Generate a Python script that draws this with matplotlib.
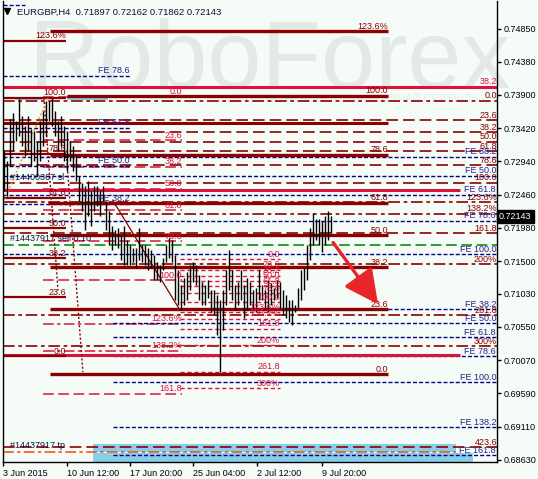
import matplotlib
matplotlib.use('Agg')
import matplotlib.pyplot as plt
from matplotlib.patches import Rectangle
from matplotlib.transforms import blended_transform_factory

plt.rcParams['font.family'] = ['Liberation Sans', 'DejaVu Sans']

# EURGBP H4 bars (high / low)
highs = [0.73094, 0.7295, 0.73555, 0.73641, 0.73526, 0.73843, 0.73598, 0.73454, 0.73598, 0.73411,
         0.73382, 0.73238, 0.73526, 0.7367, 0.73814, 0.73814, 0.73857, 0.7367, 0.73526, 0.73598,
         0.73454, 0.73382, 0.73238, 0.73166, 0.73022, 0.72734, 0.72633, 0.7259, 0.72662, 0.72518,
         0.7259, 0.7259, 0.72518, 0.7259, 0.72374, 0.7223, 0.72014, 0.71942, 0.71971, 0.7187,
         0.72014, 0.71798, 0.71726, 0.71683, 0.71683, 0.71971, 0.71726, 0.71726, 0.71683, 0.71654,
         0.71582, 0.71481, 0.71438, 0.71539, 0.71726, 0.71827, 0.71798, 0.71582, 0.71366, 0.7115,
         0.71251, 0.71337, 0.71438, 0.71481, 0.71438, 0.71294, 0.71193, 0.7115, 0.71222, 0.71078,
         0.71078, 0.71006, 0.70934, 0.71078, 0.71366, 0.71654, 0.71366, 0.7115, 0.71193, 0.71366,
         0.7115, 0.71251, 0.71193, 0.71078, 0.71107, 0.71366, 0.7115, 0.71078, 0.71222, 0.71179,
         0.71107, 0.71222, 0.71193, 0.71078, 0.71006, 0.70934, 0.70934, 0.70862, 0.71107, 0.71366,
         0.71395, 0.71726, 0.71971, 0.72201, 0.72115, 0.72115, 0.72086, 0.72158, 0.7223, 0.72158]
lows = [0.72518, 0.72446, 0.72878, 0.73094, 0.73238, 0.7331, 0.73166, 0.73022, 0.73094, 0.72878,
        0.7295, 0.72734, 0.7295, 0.73166, 0.7331, 0.73526, 0.73454, 0.7331, 0.73094, 0.73166,
        0.7295, 0.72806, 0.7295, 0.72806, 0.72662, 0.72374, 0.7223, 0.71942, 0.72158, 0.72014,
        0.7223, 0.72302, 0.72158, 0.72374, 0.71942, 0.71726, 0.71654, 0.71726, 0.71683, 0.7151,
        0.71438, 0.71438, 0.71438, 0.71481, 0.71395, 0.7151, 0.71481, 0.71438, 0.71366, 0.71395,
        0.71222, 0.71222, 0.71193, 0.71366, 0.71481, 0.71539, 0.71481, 0.70934, 0.70862, 0.7079,
        0.70862, 0.70934, 0.71078, 0.71193, 0.7115, 0.70934, 0.70862, 0.70862, 0.70963, 0.70761,
        0.70718, 0.7043, 0.69897, 0.70502, 0.70862, 0.71078, 0.70934, 0.7079, 0.70862, 0.70934,
        0.70675, 0.7079, 0.70862, 0.7079, 0.70761, 0.70934, 0.70934, 0.70819, 0.70761, 0.70862,
        0.70934, 0.70963, 0.70819, 0.70718, 0.70675, 0.70617, 0.70574, 0.70761, 0.70819, 0.70934,
        0.71078, 0.71222, 0.7151, 0.71726, 0.71798, 0.71726, 0.71625, 0.71726, 0.71798, 0.71913]

time_ticks = [-0.33, 21, 42, 63, 84.3, 106]
time_labels = ['3 Jun 2015', '10 Jun 12:00', '17 Jun 20:00', '25 Jun 04:00', '2 Jul 12:00', '9 Jul 20:00']
price_ticks = [0.74850, 0.74380, 0.73900, 0.73420, 0.72940, 0.72460, 0.71980,
               0.71500, 0.71030, 0.70550, 0.70070, 0.69590, 0.69110, 0.68630]
last_price = 0.72143
title = 'EURGBP,H4  0.71897 0.72162 0.71862 0.72143'

# main retracement (thick, labels at right end)
fibA_prices = [0.74822, 0.73886, 0.73036, 0.72345, 0.71870, 0.71409, 0.70804, 0.69868]
fibA_labels = ['123.6%', '100.0', '78.6', '61.8', '50.0', '38.2', '23.6', '0.0']
# short retracement on the left
fibB_prices = [0.74678, 0.73857, 0.73051, 0.72417, 0.71971, 0.71539, 0.70977, 0.70128]
fibB_labels = ['123.6%', '100.0', '78.6', '61.8', '50.0', '38.2', '23.6', '0.0']
# crimson retracement in the middle
fibC_prices = [0.73872, 0.73247, 0.72860, 0.72547, 0.72234, 0.71789, 0.71222, 0.70597, 0.70210, 0.69584, 0.68572]
fibC_labels = ['0.0', '23.6', '38.2', '50.0', '61.8', '78.6', '100.0', '123.6%', '138.2%', '161.8', '200%']
# dashed expansion across the whole chart
fibD_prices = [0.73814, 0.73535, 0.73363, 0.73224, 0.73084, 0.72886, 0.72633, 0.72354, 0.72182,
               0.71903, 0.71452, 0.70722, 0.70271, 0.68811]
fibD_labels = ['0.0', '23.6', '38.2', '50.0', '61.8', '78.6', '100.0', '123.6%', '138.2%',
               '161.8', '200%', '261.8', '300%', '423.6']
# small crimson retracement near the lows
fibF_prices = [0.71524, 0.71378, 0.71288, 0.71215, 0.71141, 0.71037, 0.70905, 0.70759, 0.70669,
               0.70522, 0.70286, 0.69904, 0.69667]
fibF_labels = ['0.0', '23.6', '38.2', '50.0', '61.8', '78.6', '100.0', '123.6%', '138.2%',
               '161.8', '200%', '261.8', '300%']
# fibo expansions (FE)
fe1_prices = [0.75196, 0.74174, 0.73425, 0.72878, 0.72331]
fe1_labels = ['', 'FE 78.6', 'FE 61.8', 'FE 50.0', 'FE 38.2']
fe2_prices = [0.73008, 0.72734, 0.72460, 0.72086, 0.71596]
fe2_labels = ['FE 38.2', 'FE 50.0', 'FE 61.8', 'FE 78.6', 'FE 100.0']
fe3_prices = [0.70804, 0.70603, 0.70401, 0.70128, 0.69753, 0.69105, 0.68702]
fe3_labels = ['FE 38.2', 'FE 50.0', 'FE 61.8', 'FE 78.6', 'FE 100.0', 'FE 138.2', 'FE 161.8']

crimson_prices = [0.74016, 0.72532, 0.70142]
extra_line = 0.73497
sell_price = 0.71726
tp_price = 0.68745
orders = [('#14400367 sl', 0.72705), ('#14437917 sell 0.10', 0.71827), ('#14437917 tp', 0.68832)]

DR = '#8b0000'
CR = '#dc143c'
NV = '#000080'
NVT = '#2c1f8c'
BG = '#f5fcf8'

fig = plt.figure(figsize=(5.38, 4.79), dpi=100, facecolor=BG)
ax = fig.add_axes([3 / 538, 17 / 479, 494 / 538, 461 / 479], facecolor=BG)
X0, X1 = -0.33, 164.33
ax.set_xlim(X0, X1)
ax.set_ylim(0.68601, 0.75254)

# watermark, behind everything inside the chart
ax.text(0.54, 0.865, 'RoboForex', transform=ax.transAxes, fontsize=70, color='#e2e9e7',
        ha='center', va='center', zorder=0.1)
ax.text(0.71, 0.787, 'ИСПОЛЬЗУЙ РОБОТОВ – ПОЛУЧАЙ ПРИБЫЛЬ', transform=ax.transAxes, fontsize=8,
        color='#e6ecea', ha='center', va='center', zorder=0.1)

FS = 6.5


def level(p, x0, x1, color, lw, dashes=None, label='', lcolor=None, lx=None):
    ln, = ax.plot([x0, x1], [p, p], color=color, lw=lw, zorder=2, solid_capstyle='butt')
    if dashes:
        ln.set_dashes(dashes)
    if label:
        ax.annotate(label, xy=(x1 if lx is None else lx, p), xytext=(0, 0.3), textcoords='offset points',
                    ha='right', va='bottom', fontsize=FS, color=lcolor or color, zorder=4)


DASH = (7, 3)
DASHDOT = (7, 2.2, 2.2, 2.2)
DOTS = (2.9, 1.5)

for p, lab in zip(fibD_prices, fibD_labels):
    d = DASHDOT if (lab.endswith('%') or lab in ('0.0', '261.8')) else DASH
    level(p, X0, X1, DR, 1.2, d, lab, DR)

for p, lab in zip(fibC_prices, fibC_labels):
    d = DASHDOT if lab.endswith('%') else DASH
    level(p, 13, 59.3, CR, 1.1, d, lab, CR)

for p, lab in zip(fibF_prices, fibF_labels):
    level(p, 58.7, 92, CR, 1.0, (3, 2), lab, CR)

for p, lab in zip(fe1_prices, fe1_labels):
    level(p, X0, 42 if lab else 7, NV, 1.0, DOTS, lab, NVT)
for p, lab in zip(fe2_prices, fe2_labels):
    level(p, X0, X1, NV, 1.0, DOTS, lab, NVT, lx=X1 - 0.3)
for p, lab in zip(fe3_prices, fe3_labels):
    level(p, 36.3, X1, NV, 1.0, DOTS, lab, NVT, lx=X1 - 0.3)

level(sell_price, X0, X1, '#008000', 1.1, DASH)
level(tp_price, X0, 150.7, '#ff4500', 1.1, DASHDOT)

for i, p in enumerate(crimson_prices):
    level(p, X0, X1 if i == 0 else 152, CR, 2.2, None, '38.2' if i == 0 else '', CR)

level(extra_line, X0, 128, DR, 2.2)
for p, lab in zip(fibB_prices, fibB_labels):
    level(p, X0, 20.7, DR, 1.6, None, lab, DR)
for i, (p, lab) in enumerate(zip(fibA_prices, fibA_labels)):
    start = 21 if lab == '100.0' else (14.7 if lab == '61.8' else 15.3)
    level(p, start, 128, DR, 2.4, None, lab, DR)

# light blue boxes
for x0, x1, y0, y1 in [(3.7, 12.7, 0.73828, 0.73872), (21, 34.7, 0.73828, 0.73872),
                       (29.7, 150.7, 0.68745, 0.68860), (29.7, 156.3, 0.68601, 0.68731)]:
    ax.add_patch(Rectangle((x0, y0), x1 - x0, y1 - y0, facecolor='#87ceeb', edgecolor='none', zorder=1.5))

# trend lines
ax.plot([13.3, 18], [0.73857, 0.71078], color=DR, lw=1, ls=(0, (1.5, 1.5)), zorder=2)
ax.plot([20.7, 26.3], [0.73094, 0.69897], color=DR, lw=1, ls=(0, (1.5, 1.5)), zorder=2)
ax.plot([X0, 14.7], [0.72331, 0.73857], color='#daa520', lw=1, ls=(0, (1.5, 1.5)), zorder=2)
ax.plot([36.3, 58.7], [0.72374, 0.70790], color=DR, lw=0.9, zorder=2)

# bars
ax.vlines(range(len(highs)), lows, highs, color='black', lw=1.0, zorder=3)

for txt, p in orders:
    ax.text(2, p, txt, fontsize=FS, color='#14143c', va='center', ha='left', zorder=4)

ax.annotate('', xy=(124.7, 0.70876), xytext=(109.7, 0.71769),
            arrowprops=dict(arrowstyle='-|>,head_width=0.5,head_length=1.0', color='#e8262a',
                            lw=2.4, mutation_scale=21, shrinkA=0, shrinkB=0), zorder=5)

ax.text(0.028, 0.985, title, transform=ax.transAxes, fontsize=6.8, color='#101030', va='top', ha='left',
        zorder=6)
ax.plot([0.009], [0.978], marker='v', color='black', ms=4, transform=ax.transAxes, clip_on=False)

# axes styling
ax.spines['top'].set_visible(False)
for s in ['left', 'right', 'bottom']:
    ax.spines[s].set_color('black')
    ax.spines[s].set_linewidth(1)
ax.yaxis.tick_right()
ax.set_yticks(price_ticks)
ax.set_yticklabels(['%.5f' % v for v in price_ticks])
ax.set_xticks(time_ticks)
ax.set_xticklabels(time_labels, ha='left')
ax.tick_params(axis='both', direction='out', length=3, width=1, labelsize=FS, colors='black', pad=2)

tr = blended_transform_factory(ax.transAxes, ax.transData)
ax.text(1.004, last_price, '%.5f' % last_price, transform=tr, fontsize=FS, color='white', ha='left',
        va='center', bbox=dict(boxstyle='square,pad=0.25', facecolor='black', edgecolor='black'),
        clip_on=False, zorder=6)

fig.savefig('out.png', dpi=100, facecolor=BG)
